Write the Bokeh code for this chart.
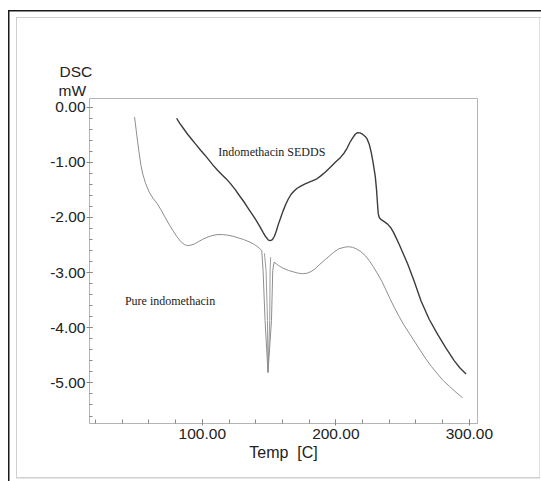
from bokeh.plotting import figure
from bokeh.models import Range1d, FixedTicker, NumeralTickFormatter, Label, Title
from bokeh.embed import file_html
from bokeh.resources import INLINE

# ---- data ----
sedds_temp = [80.75, 83, 86, 89, 92, 95, 98.75, 102, 105, 108, 111.25, 114.5, 118, 121.25, 124.5,
              128, 131, 134, 137, 140, 143, 145.5, 147.5, 149.5, 151, 152.5, 154, 155.5, 157,
              158.75, 160.5, 162.5, 164.5, 166.5, 168.75, 171, 173.75, 177, 181, 185, 188.5,
              192, 196.25, 200, 203.5, 206.25, 208.5, 210.5, 212.5, 214.5, 216.25, 218, 220,
              222, 223.5, 225, 226.5, 228, 229.5, 230.5, 231.2, 231.75, 232.5, 234, 236.5,
              238.75, 241, 243, 245, 247.5, 250, 253.75, 258.75, 263.75, 270, 276.25, 282.5,
              288.75, 293, 297.5]
sedds_dsc = [-0.20, -0.29, -0.39, -0.49, -0.58, -0.67, -0.78, -0.87, -0.96, -1.05, -1.14, -1.22,
             -1.30, -1.39, -1.49, -1.61, -1.71, -1.82, -1.93, -2.04, -2.16, -2.27, -2.35, -2.41,
             -2.42, -2.40, -2.34, -2.24, -2.12, -2.00, -1.88, -1.76, -1.66, -1.58, -1.52, -1.47,
             -1.43, -1.39, -1.35, -1.31, -1.25, -1.18, -1.08, -0.99, -0.91, -0.83, -0.74, -0.64,
             -0.56, -0.49, -0.46, -0.465, -0.49, -0.53, -0.58, -0.67, -0.82, -1.02, -1.25,
             -1.50, -1.75, -1.93, -2.00, -2.04, -2.08, -2.12, -2.18, -2.26, -2.36, -2.49, -2.63,
             -2.84, -3.16, -3.51, -3.85, -4.12, -4.37, -4.60, -4.73, -4.84]

pure_temp = [49.25, 50.5, 51.5, 52.5, 54, 55.5, 57.5, 60, 63, 66.3, 69, 72, 75, 78, 81, 84, 86.5,
             89, 91.5, 94, 97, 100, 103.5, 107, 111, 115, 119, 123, 127, 131, 135, 139, 142.5,
             144.5, 145.5, 147, 149.2, 151.8, 152.75, 153.75, 157, 160.5, 164.5, 168.75, 172,
             175, 178.5, 181.5, 184.5, 187.5, 191.25, 195, 198.5, 202, 206.25, 209.5, 212.5,
             215.5, 218.75, 222, 225, 228, 231.25, 234.5, 237.5, 240.5, 243.75, 247.5, 251,
             255, 258.75, 263, 267, 271.5, 276.25, 280.5, 285, 290, 295]
pure_dsc = [-0.18, -0.42, -0.62, -0.80, -1.05, -1.22, -1.38, -1.53, -1.65, -1.75, -1.86, -1.99,
            -2.12, -2.24, -2.35, -2.44, -2.49, -2.51, -2.50, -2.48, -2.44, -2.40, -2.36, -2.33,
            -2.31, -2.31, -2.32, -2.34, -2.37, -2.40, -2.44, -2.49, -2.55, -2.60, -2.96, -3.87,
            -4.81, -3.87, -2.96, -2.81, -2.87, -2.92, -2.96, -2.99, -3.01, -3.02, -3.01, -2.98,
            -2.93, -2.86, -2.78, -2.70, -2.63, -2.57, -2.54, -2.53, -2.54, -2.57, -2.62, -2.69,
            -2.78, -2.89, -3.02, -3.16, -3.31, -3.47, -3.63, -3.80, -3.95, -4.10, -4.24, -4.40,
            -4.55, -4.70, -4.84, -4.96, -5.06, -5.17, -5.27]

# inner trace of the melting spike (drawn twice in the original)
spike_temp = [146.5, 147.75, 148.8, 149.2, 150.5, 150.75, 151.2]
spike_dsc = [-2.65, -2.96, -3.87, -4.81, -3.87, -2.96, -2.72]

x_major = [100, 200, 300]
x_minor = [20, 40, 60, 80, 100, 120, 140, 160, 180, 200, 220, 240, 260, 280, 300]
y_major = [0, -1, -2, -3, -4, -5]
y_minor = [0, -0.2, -0.4, -0.6, -0.8, -1, -1.2, -1.4, -1.6, -1.8, -2, -2.2, -2.4, -2.6, -2.8,
           -3, -3.2, -3.4, -3.6, -3.8, -4, -4.2, -4.4, -4.6, -4.8, -5, -5.2, -5.4, -5.6]

# scanned page edges drawn as CSS background lines of the figure element
page_lines = ", ".join([
    "linear-gradient(#1a1a1a,#1a1a1a) 9px 10px / 532px 1.5px no-repeat",
    "linear-gradient(#1a1a1a,#1a1a1a) 8px 10px / 1.5px 471px no-repeat",
    "linear-gradient(#cfcfcf,#cfcfcf) 16px 17px / 525px 1px no-repeat",
    "linear-gradient(#cfcfcf,#cfcfcf) 16px 17px / 1px 461px no-repeat",
    "linear-gradient(#cfcfcf,#cfcfcf) 16px 477px / 524px 1.5px no-repeat",
    "linear-gradient(#e0e0e0,#e0e0e0) 539px 17px / 1px 461px no-repeat",
    "#ffffff",
])

p = figure(width=541, height=481, output_backend="svg", toolbar_location=None,
           title_location=None,
           x_range=Range1d(15.5, 306.1), y_range=Range1d(-5.736, 0.158),
           min_border_left=89, min_border_right=64, min_border_top=98, min_border_bottom=58,
           styles={"background": page_lines})
p.background_fill_color = "white"
p.border_fill_color = None
p.outline_line_color = "#b4b4b4"
p.outline_line_width = 1
p.xgrid.visible = False
p.ygrid.visible = False

p.line(pure_temp, pure_dsc, line_color="#8e8e8e", line_width=1.0)
p.line(spike_temp, spike_dsc, line_color="#8e8e8e", line_width=0.9)
p.line(sedds_temp, sedds_dsc, line_color="#3c3c3c", line_width=1.4)

# axes
xa = p.xaxis[0]
xa.ticker = FixedTicker(ticks=x_major, minor_ticks=x_minor)
xa.formatter = NumeralTickFormatter(format="0.00")
xa.axis_line_color = "#b4b4b4"
xa.major_tick_line_color = "#888888"
xa.minor_tick_line_color = "#888888"
xa.major_tick_in = 4
xa.major_tick_out = 2
xa.minor_tick_in = 4
xa.minor_tick_out = 0
xa.major_label_standoff = 3
xa.major_label_text_font = "Liberation Sans"
xa.major_label_text_font_size = "15.5px"
xa.major_label_text_color = "#222222"
xa.axis_label = "Temp\u00a0 [C]"
xa.axis_label_text_font = "Liberation Sans"
xa.axis_label_text_font_size = "16px"
xa.axis_label_text_font_style = "normal"
xa.axis_label_text_color = "#222222"
xa.axis_label_standoff = 2

ya = p.yaxis[0]
ya.ticker = FixedTicker(ticks=y_major, minor_ticks=y_minor)
ya.formatter = NumeralTickFormatter(format="0.00")
ya.axis_line_color = "#b4b4b4"
ya.major_tick_line_color = "#888888"
ya.minor_tick_line_color = "#888888"
ya.major_tick_in = 3
ya.major_tick_out = 3
ya.minor_tick_in = 3
ya.minor_tick_out = 0
ya.major_label_standoff = 1
ya.major_label_text_font = "Liberation Sans"
ya.major_label_text_font_size = "15.5px"
ya.major_label_text_color = "#222222"

# y axis title above the axis (two stacked titles)
p.add_layout(Title(text="mW", align="left", offset=-31, standoff=0, vertical_align="bottom",
                   text_font="Liberation Sans", text_font_size="15.5px",
                   text_font_style="normal", text_color="#222222"), "above")
p.add_layout(Title(text="DSC", align="left", offset=-30, standoff=0, vertical_align="bottom",
                   text_font="Liberation Sans", text_font_size="15.5px",
                   text_font_style="normal", text_color="#222222"), "above")

# curve annotations
p.add_layout(Label(x=112.0, y=-0.813, text="Indomethacin SEDDS", text_baseline="alphabetic",
                   text_font="Liberation Serif", text_font_size="12px", text_color="#222222"))
p.add_layout(Label(x=42.0, y=-3.51, text="Pure indomethacin", text_baseline="alphabetic",
                   text_font="Liberation Serif", text_font_size="12px", text_color="#222222"))

open("out.html", "w").write(file_html(p, INLINE))
